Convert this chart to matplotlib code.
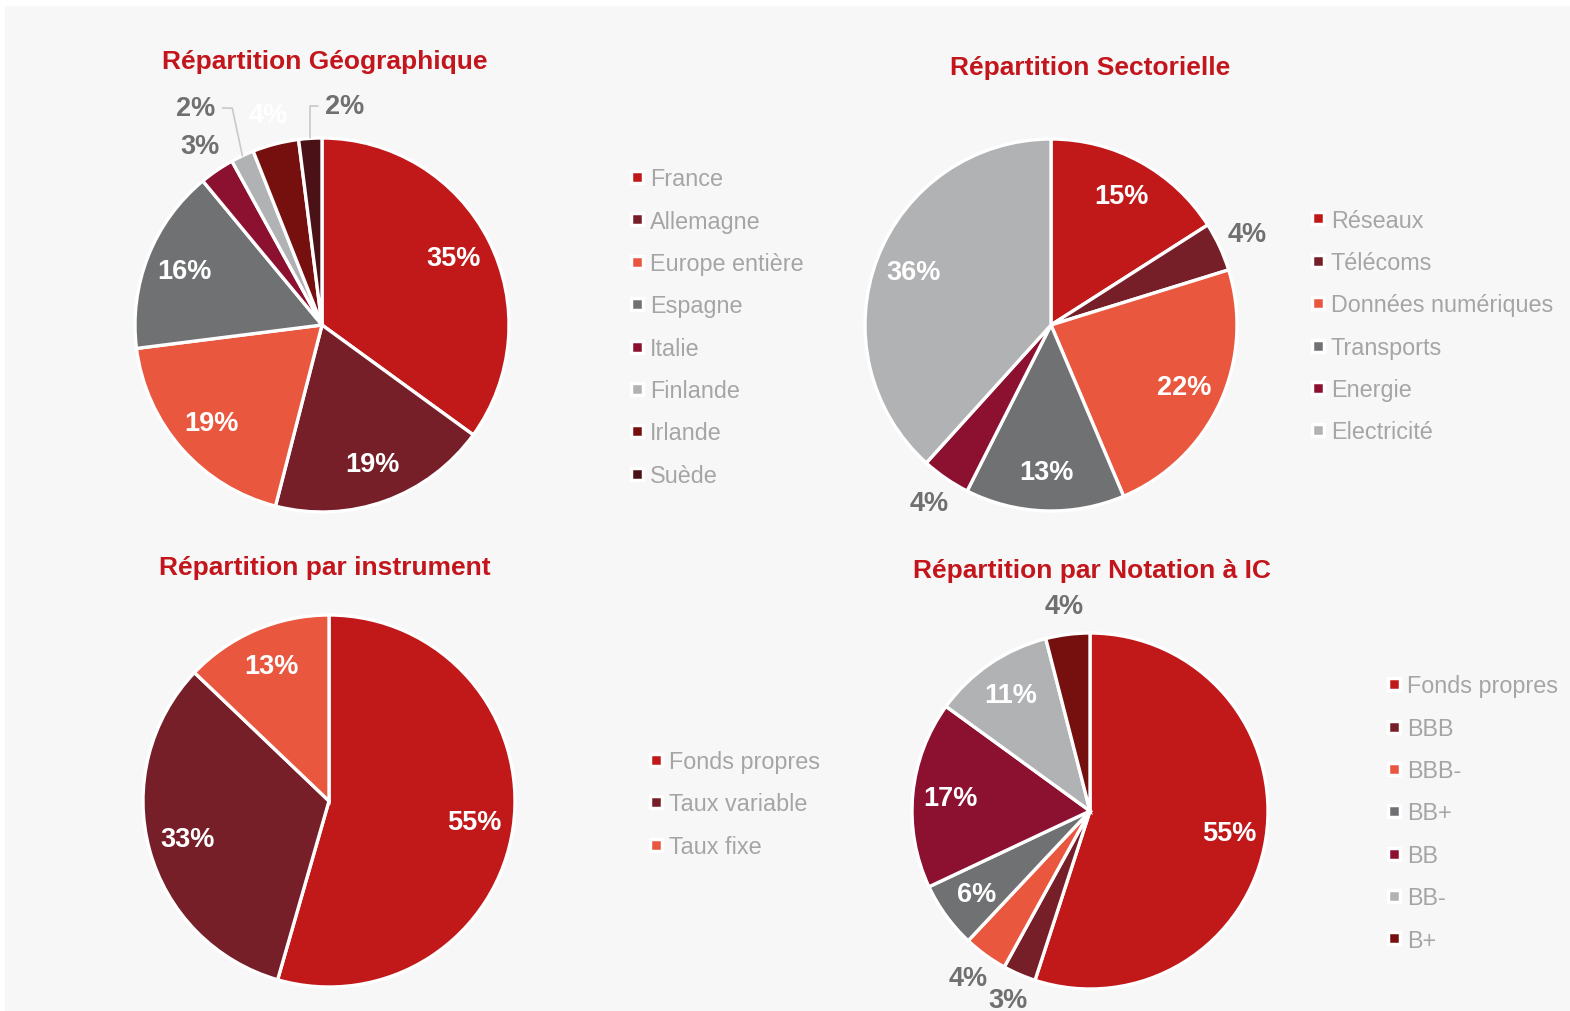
"""
Répartition du portefeuille : quatre camemberts
"""

import matplotlib
matplotlib.use("Agg")
import matplotlib.pyplot as plt
from matplotlib.lines import Line2D
from matplotlib.patches import Rectangle
import numpy as np

plt.rcParams['font.family'] = ['Liberation Sans', 'DejaVu Sans']

# --- data ---
geo_labels = ["France", "Allemagne", "Europe entière", "Espagne", "Italie",
              "Finlande", "Irlande", "Suède"]
geo_values = [35, 19, 19, 16, 3, 2, 4, 2]

sect_labels = ["Réseaux", "Télécoms", "Données numériques", "Transports",
               "Energie", "Electricité"]
sect_values = [15, 4, 22, 13, 4, 36]

instr_labels = ["Fonds propres", "Taux variable", "Taux fixe"]
instr_values = [55, 33, 13]

note_labels = ["Fonds propres", "BBB", "BBB-", "BB+", "BB", "BB-", "B+"]
note_values = [55, 3, 4, 6, 17, 11, 4]

# palette, each chart takes the first n colours
palette = ["#c1191a", "#771f28", "#e9573f", "#707173", "#8c1131",
           "#b1b2b4", "#76100f", "#4a1216"]
note_colors = palette[:6] + ["#76100f"]

TITLE_RED = "#c3161c"
LEGEND_GREY = "#a5a5a5"
OUT_GREY = "#707070"
PCT_SIZE = 19.5
W, H = 1570, 1012


def pie_axes(fig, cx, cy, r):
    # cx, cy, r in pixels, y from the top
    ax = fig.add_axes([(cx - r) / W, (H - cy - r) / H, 2 * r / W, 2 * r / H])
    return ax


def draw_pie(ax, values, colors, outside=(), white_out=(), leaders=None):
    wedges, _ = ax.pie(values, colors=colors, startangle=90, counterclock=False,
                       radius=1, wedgeprops=dict(edgecolor='white', linewidth=2.4,
                                                 clip_on=False))
    ax.set_xlim(-1, 1)
    ax.set_ylim(-1, 1)
    ax.set_aspect('equal')
    ax.axis('off')
    leaders = leaders or {}
    for i, (w, v) in enumerate(zip(wedges, values)):
        mid = np.deg2rad((w.theta1 + w.theta2) / 2)
        txt = f"{v}%"
        if i in leaders:
            tx, ty, angB = leaders[i]
            ax.annotate(txt, xy=(np.cos(mid), np.sin(mid)), xytext=(tx, ty),
                        ha='center', va='center', fontsize=PCT_SIZE,
                        fontweight='bold', color=OUT_GREY,
                        arrowprops=dict(arrowstyle='-', color='#c9c9c9', lw=1.2,
                                        shrinkA=3, shrinkB=0,
                                        connectionstyle=f"angle,angleA=0,angleB={angB},rad=0"))
            continue
        if i in outside or i in white_out:
            d = 1.16
            col = 'white' if i in white_out else OUT_GREY
        else:
            d = 0.79
            col = 'white'
        ax.text(d * np.cos(mid), d * np.sin(mid), txt, ha='center', va='center',
                fontsize=PCT_SIZE, fontweight='bold', color=col)
    return wedges


def add_legend(fig, labels, colors, x, y):
    handles = [Line2D([], [], linestyle='none', marker='s', markersize=8.3,
                      markerfacecolor=c, markeredgecolor='white',
                      markeredgewidth=2.5) for c in colors]
    fig.legend(handles, labels, loc='center left',
               bbox_to_anchor=(x / W, 1 - y / H), frameon=False,
               fontsize=16.8, labelcolor=LEGEND_GREY, handlelength=0.6,
               handletextpad=0.25, labelspacing=0.83, borderpad=0,
               borderaxespad=0)


fig = plt.figure(figsize=(W / 100, H / 100), dpi=100, facecolor='white')
fig.patches.append(Rectangle((5 / W, 0), 1, 1 - 7 / H, transform=fig.transFigure,
                             facecolor='#f7f7f7', edgecolor='none', zorder=-10))

# Répartition Géographique
ax1 = pie_axes(fig, 322, 326, 187)
draw_pie(ax1, geo_values, palette[:8], outside=(4,), white_out=(6,),
         leaders={5: (-0.674, 1.16, 102), 7: (0.123, 1.17, 90)})
fig.text(325 / W, 1 - 62 / H, "Répartition Géographique", ha='center', va='center',
         fontsize=19, fontweight='bold', color=TITLE_RED)
add_legend(fig, geo_labels, palette[:8], 630, 328)

# Répartition Sectorielle
ax2 = pie_axes(fig, 1051, 326, 186)
draw_pie(ax2, sect_values, palette[:6], outside=(1, 4))
fig.text(1090 / W, 1 - 68 / H, "Répartition Sectorielle", ha='center', va='center',
         fontsize=19, fontweight='bold', color=TITLE_RED)
add_legend(fig, sect_labels, palette[:6], 1311, 327)

# Répartition par instrument
ax3 = pie_axes(fig, 329, 802, 186)
draw_pie(ax3, instr_values, palette[:3])
fig.text(325 / W, 1 - 568 / H, "Répartition par instrument", ha='center', va='center',
         fontsize=19, fontweight='bold', color=TITLE_RED)
add_legend(fig, instr_labels, palette[:3], 649, 805)

# Répartition par Notation à IC
ax4 = pie_axes(fig, 1090, 812, 178)
draw_pie(ax4, note_values, note_colors, outside=(1, 2, 6))
fig.text(1092 / W, 1 - 571 / H, "Répartition par Notation à IC", ha='center',
         va='center', fontsize=19, fontweight='bold', color=TITLE_RED)
add_legend(fig, note_labels, note_colors, 1387, 814)

fig.savefig("out.png", dpi=100, facecolor=fig.get_facecolor())
